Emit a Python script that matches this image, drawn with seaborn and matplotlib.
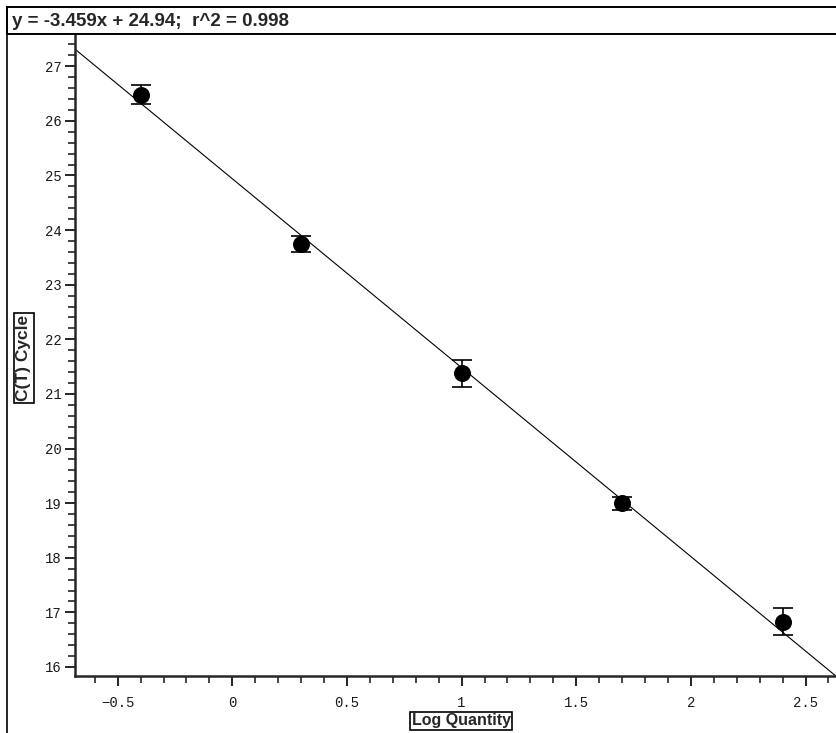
import numpy as np
import pandas as pd
import matplotlib
matplotlib.use("Agg")
import matplotlib.pyplot as plt
from matplotlib.patches import Rectangle
from matplotlib.lines import Line2D
from matplotlib.ticker import MultipleLocator
import seaborn as sns

# ---- data ----
log_quantity = [-0.4, 0.3, 1.0, 1.7, 2.4]
ct_mean = [26.48, 23.74, 21.38, 19.00, 16.83]
ct_err = [0.18, 0.15, 0.25, 0.12, 0.25]
slope = -3.459
intercept = 24.94
r2 = 0.998
title_text = "y = -3.459x + 24.94;  r^2 = 0.998"
x_label = "Log Quantity"
y_label = "C(T) Cycle"

df = pd.DataFrame({"x": log_quantity, "y": ct_mean, "err": ct_err})

sns.set_style("ticks")
plt.rcParams["font.family"] = ["Liberation Sans", "DejaVu Sans"]

W, H = 837, 733
fig = plt.figure(figsize=(W / 100, H / 100), dpi=100)
ax = fig.add_axes([75 / W, 1 - 676 / H, (836 - 75) / W, (676 - 34) / H])

# regression line
ax.axline((0, intercept), slope=slope, color="black", lw=0.8, zorder=2)

# error bars
ax.errorbar(df["x"], df["y"], yerr=df["err"], fmt="none", ecolor="black",
            elinewidth=1.2, capsize=7.5, capthick=1.2, zorder=3)
# points
sns.scatterplot(data=df, x="x", y="y", ax=ax, color="black", s=150,
                edgecolor="black", linewidth=0, zorder=4, legend=False)

ax.set_xlim(-0.686, 2.633)
ax.set_ylim(15.835, 27.59)

ax.xaxis.set_major_locator(MultipleLocator(0.5))
ax.xaxis.set_minor_locator(MultipleLocator(0.1))
ax.yaxis.set_major_locator(MultipleLocator(1))
ax.yaxis.set_minor_locator(MultipleLocator(0.2))
ax.xaxis.set_major_formatter(matplotlib.ticker.FuncFormatter(
    lambda v, p: ("%g" % v).replace("-", "\u2212")))

ax.tick_params(axis="both", which="major", length=7.5, width=1.2,
               direction="out", labelsize=10, colors="black")
ax.tick_params(axis="both", which="minor", length=5, width=1.2, direction="out")
ax.tick_params(axis="x", which="major", pad=7)
ax.tick_params(axis="y", which="major", pad=2)
for lab in ax.get_xticklabels() + ax.get_yticklabels():
    lab.set_fontfamily(["Liberation Mono", "DejaVu Sans Mono"])
    lab.set_color("#1a1a1a")

ax.spines["top"].set_visible(False)
ax.spines["right"].set_visible(False)
ax.spines["left"].set_linewidth(1.8)
ax.spines["bottom"].set_linewidth(1.8)
ax.set_xlabel("")
ax.set_ylabel("")

# outer frame and title box
fig.add_artist(Line2D([7.5 / W, 7.5 / W], [0, 1 - 7 / H], transform=fig.transFigure,
                      color="black", lw=1.2))
fig.add_artist(Rectangle((7.5 / W, 1 - 34 / H), (W - 7.5) / W + 0.01, 27 / H,
                         transform=fig.transFigure, fill=False,
                         edgecolor="black", lw=1.4))
fig.text(12 / W, 1 - 21 / H, title_text, fontsize=13.5, fontweight="bold",
         va="center", ha="left", family=["Liberation Sans", "DejaVu Sans"])

# boxed axis labels
box = dict(boxstyle="square,pad=0.12", facecolor="white", edgecolor="black", lw=1.2)
fig.text(461 / W, 1 - 721 / H, x_label, fontsize=11.5, ha="center", va="center",
         bbox=box, fontweight="bold", family=["Liberation Sans", "DejaVu Sans"])
fig.text(24 / W, 1 - 358 / H, y_label, fontsize=12.5, ha="center", va="center",
         rotation=90, bbox=box, fontweight="bold",
         family=["Liberation Sans", "DejaVu Sans"])

fig.savefig("out.png", dpi=100)
